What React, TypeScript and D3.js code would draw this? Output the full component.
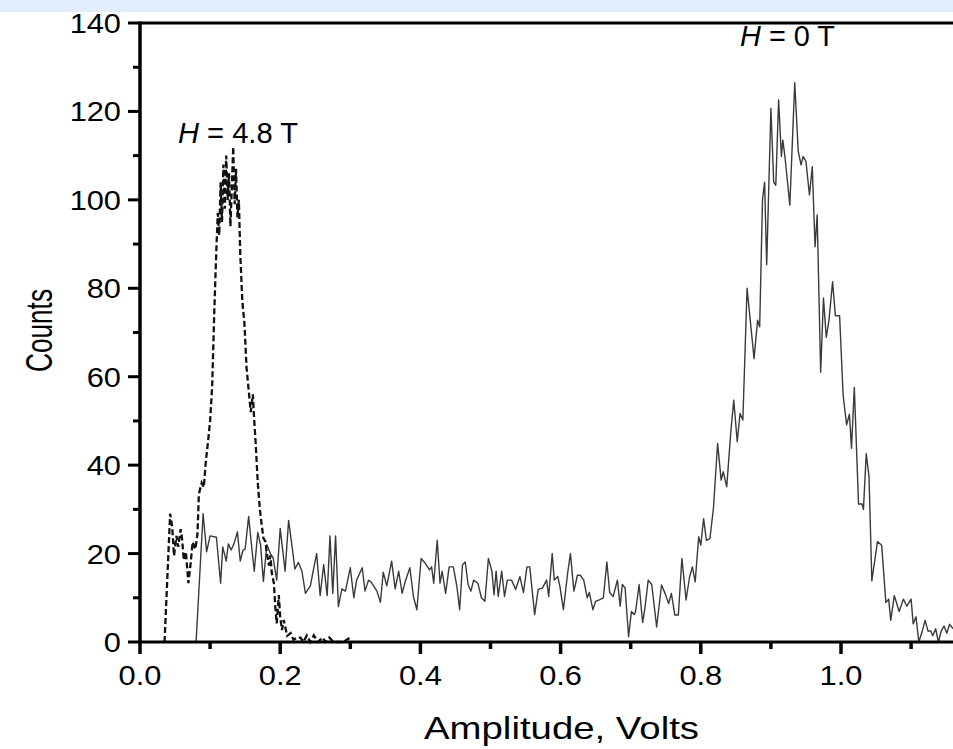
import React from "react";
import * as d3 from "d3";

const xTicks = [0, 0.2, 0.4, 0.6, 0.8, 1.0];
const xMinorTicks = [0.1, 0.3, 0.5, 0.7, 0.9, 1.1];
const yTicks = [0, 20, 40, 60, 80, 100, 120, 140];
const yMinorTicks = [10, 30, 50, 70, 90, 110, 130];

// H = 0 T (solid)
const h0Series: [number, number][] = [
  [0.08, 0], [0.09, 29], [0.095, 20.4], [0.1, 24], [0.109, 23.7], [0.115, 13.3], [0.118, 21.5], [0.123, 18.3],
  [0.126, 22.2], [0.13, 20.8], [0.134, 22.2], [0.139, 24.9], [0.143, 18.3], [0.147, 20.8], [0.15, 21], [0.155, 28.4],
  [0.159, 22], [0.163, 16], [0.168, 24.8], [0.172, 22], [0.176, 13.7], [0.181, 22], [0.186, 20], [0.19, 19],
  [0.195, 14], [0.2, 25.7], [0.203, 21.5], [0.207, 16], [0.212, 27.5], [0.217, 21.5], [0.221, 16.5], [0.226, 18],
  [0.231, 16], [0.236, 11], [0.243, 12.7], [0.248, 16.8], [0.252, 20], [0.257, 10.5], [0.262, 17.5], [0.267, 10.5],
  [0.271, 24], [0.275, 11], [0.279, 24], [0.283, 8], [0.288, 12], [0.293, 11.5], [0.3, 16.8], [0.305, 10],
  [0.309, 14], [0.317, 16.8], [0.321, 11.5], [0.326, 14], [0.33, 13.5], [0.338, 11.5], [0.343, 9], [0.347, 15.8],
  [0.352, 12.7], [0.359, 18.3], [0.364, 12], [0.369, 16], [0.374, 11], [0.378, 13.5], [0.385, 16.8], [0.39, 10.3],
  [0.395, 7.3], [0.401, 18.9], [0.407, 17.8], [0.413, 16.3], [0.416, 17], [0.419, 13.3], [0.424, 23], [0.428, 13.3],
  [0.431, 16], [0.436, 11], [0.441, 17], [0.447, 17], [0.452, 12.6], [0.456, 7.3], [0.46, 17.4], [0.464, 18.1],
  [0.468, 13], [0.472, 11.5], [0.476, 14], [0.482, 13.3], [0.487, 10], [0.492, 9.2], [0.497, 18.9], [0.502, 16],
  [0.505, 10.7], [0.508, 16], [0.511, 10.3], [0.516, 16], [0.52, 10.3], [0.524, 14], [0.53, 14], [0.536, 11.9],
  [0.542, 14.8], [0.547, 11.2], [0.552, 17], [0.556, 17], [0.563, 6.2], [0.568, 11.9], [0.574, 12.2], [0.58, 14],
  [0.583, 10.3], [0.588, 20], [0.591, 14], [0.596, 14.8], [0.599, 12.6], [0.604, 7.3], [0.61, 15.5], [0.614, 20],
  [0.619, 11.5], [0.624, 15.1], [0.628, 15.1], [0.633, 14], [0.638, 10], [0.641, 11.2], [0.646, 7.3], [0.65, 9.2],
  [0.656, 9.6], [0.661, 10], [0.666, 18.1], [0.67, 11.2], [0.675, 10.3], [0.681, 14], [0.685, 8.1], [0.688, 13],
  [0.692, 12.2], [0.697, 1.2], [0.701, 6.9], [0.705, 6.2], [0.707, 6.9], [0.712, 13], [0.717, 4.4], [0.72, 7.3],
  [0.725, 14], [0.73, 13], [0.737, 3.4], [0.744, 12.9], [0.749, 11], [0.754, 8.7], [0.758, 11], [0.763, 6.1],
  [0.768, 6.1], [0.773, 18.9], [0.779, 9.5], [0.784, 14.7], [0.788, 17], [0.792, 13.6], [0.797, 23.8], [0.8, 21.9],
  [0.804, 27.9], [0.808, 23], [0.813, 23.4], [0.818, 30.2], [0.824, 44.9], [0.829, 36.6], [0.832, 38.5], [0.837, 35.1],
  [0.843, 47.9], [0.847, 54.7], [0.852, 45.3], [0.856, 51.7], [0.86, 50.2], [0.866, 80], [0.876, 64.1], [0.881, 72.8],
  [0.884, 71.3], [0.888, 100], [0.891, 104], [0.894, 85.3], [0.9, 120.7], [0.904, 104], [0.907, 103.3], [0.911, 122.6],
  [0.915, 109.8], [0.917, 113.5], [0.92, 109.8], [0.927, 98.8], [0.934, 126.5], [0.939, 111], [0.943, 107.9], [0.946, 109.8],
  [0.95, 108.7], [0.955, 101.1], [0.959, 107.5], [0.963, 89.4], [0.966, 96.6], [0.971, 61], [0.975, 77.8], [0.979, 68.9],
  [0.983, 73], [0.988, 81.5], [0.992, 73.8], [0.998, 73.8], [1.003, 55.9], [1.008, 49.1], [1.012, 51.5], [1.015, 43.8],
  [1.019, 57.6], [1.025, 31.2], [1.03, 31.2], [1.032, 30], [1.036, 42.6], [1.04, 37.3], [1.044, 13.8], [1.052, 22.7],
  [1.058, 21.9], [1.064, 8.9], [1.068, 9.7], [1.071, 4.9], [1.076, 10.5], [1.083, 6.9], [1.089, 9.7], [1.094, 8.1],
  [1.1, 9.7], [1.103, 4.1], [1.107, 5.7], [1.111, 0], [1.116, 2.5], [1.12, 4.9], [1.124, 2.5], [1.128, 2.5],
  [1.131, 1.4], [1.135, 3], [1.139, 0], [1.143, 2.5], [1.147, 3.6], [1.151, 2], [1.155, 4], [1.16, 3],
];

// H = 4.8 T (dashed)
const h48Series: [number, number][] = [
  [0.035, 0], [0.043, 29], [0.046, 26], [0.0485, 19.5], [0.052, 24], [0.0545, 21.5], [0.058, 25.5], [0.06, 23.4],
  [0.0625, 18.5], [0.0655, 20.4], [0.069, 13.3], [0.072, 17.4], [0.075, 22.6], [0.079, 21], [0.082, 24.5], [0.084, 33.5],
  [0.088, 36], [0.091, 35], [0.094, 41], [0.0975, 46], [0.1, 50], [0.103, 58], [0.106, 75], [0.109, 89],
  [0.111, 97], [0.113, 92], [0.115, 104], [0.117, 95], [0.119, 108], [0.121, 98], [0.123, 110], [0.125, 100],
  [0.127, 106], [0.129, 94], [0.131, 103], [0.133, 112], [0.135, 99], [0.137, 107], [0.139, 96], [0.141, 100],
  [0.143, 88], [0.146, 77], [0.149, 72], [0.152, 62], [0.155, 57], [0.158, 52], [0.161, 56], [0.163, 50],
  [0.165, 45], [0.168, 36], [0.171, 30], [0.174, 26], [0.176, 23.5], [0.179, 22.7], [0.181, 20], [0.184, 17.3],
  [0.186, 19.6], [0.188, 15.6], [0.191, 13.3], [0.193, 8], [0.195, 4.2], [0.198, 10.6], [0.2, 5.7], [0.2025, 2.7],
  [0.205, 5], [0.21, 1.4], [0.215, 2], [0.219, 0.5], [0.224, 1], [0.229, 1], [0.233, 0], [0.238, 1.5],
  [0.243, 0], [0.248, 1.5], [0.254, 0], [0.26, 1], [0.265, 0], [0.27, 1], [0.276, 0], [0.282, 0],
  [0.29, 0], [0.3, 1],
];

const W = 953;
const H = 749;

export default function App() {
  const x = d3.scaleLinear().domain([0, 1]).range([140, 841]);
  const y = d3.scaleLinear().domain([0, 140]).range([642, 23]);
  const line = d3
    .line<[number, number]>()
    .x((d) => x(d[0]))
    .y((d) => y(d[1]));
  const font = "Liberation Sans, Arial, sans-serif";
  const x0 = x(0);
  const y0 = y(0);
  const yTop = y(140);
  const sw = 3;
  const tickFs = 28;
  const sx = 1.1;
  return (
    <svg
      width={W}
      height={H}
      style={{ position: "absolute", left: 0, top: 0, background: "#fff" }}
      fontFamily={font}
    >
      <rect x={0} y={0} width={W} height={12} fill="#e2eefb" />
      <path d={line(h0Series) || ""} fill="none" stroke="#3a3a3a" strokeWidth={1.4} strokeLinejoin="round" />
      <path
        d={line(h48Series) || ""}
        fill="none"
        stroke="#111"
        strokeWidth={2.3}
        strokeDasharray="6,3"
      />
      {/* axes */}
      <line x1={x0} y1={yTop} x2={W} y2={yTop} stroke="#000" strokeWidth={sw} />
      <line x1={x0} y1={yTop - sw / 2} x2={x0} y2={y0 + sw / 2} stroke="#000" strokeWidth={sw + 0.5} />
      <line x1={x0 - sw / 2} y1={y0} x2={W} y2={y0} stroke="#000" strokeWidth={sw} />
      {xTicks.map((t) => (
        <g key={"xt" + t}>
          <line x1={x(t)} x2={x(t)} y1={y0} y2={y0 + 12} stroke="#000" strokeWidth={sw + 0.5} />
          <text
            transform={`translate(${x(t)},685) scale(${sx},1)`}
            textAnchor="middle"
            fontSize={tickFs}
          >
            {t.toFixed(1)}
          </text>
        </g>
      ))}
      {xMinorTicks.map((t) => (
        <line key={"xm" + t} x1={x(t)} x2={x(t)} y1={y0} y2={y0 + 7} stroke="#000" strokeWidth={sw + 0.5} />
      ))}
      {yTicks.map((t) => (
        <g key={"yt" + t}>
          <line x1={x0} x2={x0 - 12} y1={y(t)} y2={y(t)} stroke="#000" strokeWidth={sw} />
          <text
            transform={`translate(121,${y(t) + 10}) scale(${sx},1)`}
            textAnchor="end"
            fontSize={tickFs}
          >
            {t}
          </text>
        </g>
      ))}
      {yMinorTicks.map((t) => (
        <line key={"ym" + t} x1={x0} x2={x0 - 7} y1={y(t)} y2={y(t)} stroke="#000" strokeWidth={sw} />
      ))}
      <text
        x={424}
        y={739}
        fontSize={32}
        textLength={275}
        lengthAdjust="spacingAndGlyphs"
      >
        Amplitude, Volts
      </text>
      <text
        transform="translate(52,372) rotate(-90)"
        fontSize={37}
        textLength={83}
        lengthAdjust="spacingAndGlyphs"
      >
        Counts
      </text>
      <text x={178} y={143} fontSize={29} textLength={120} lengthAdjust="spacingAndGlyphs">
        <tspan fontStyle="italic">H</tspan> = 4.8 T
      </text>
      <text x={740} y={46} fontSize={29} textLength={95} lengthAdjust="spacingAndGlyphs">
        <tspan fontStyle="italic">H</tspan> = 0 T
      </text>
    </svg>
  );
}
